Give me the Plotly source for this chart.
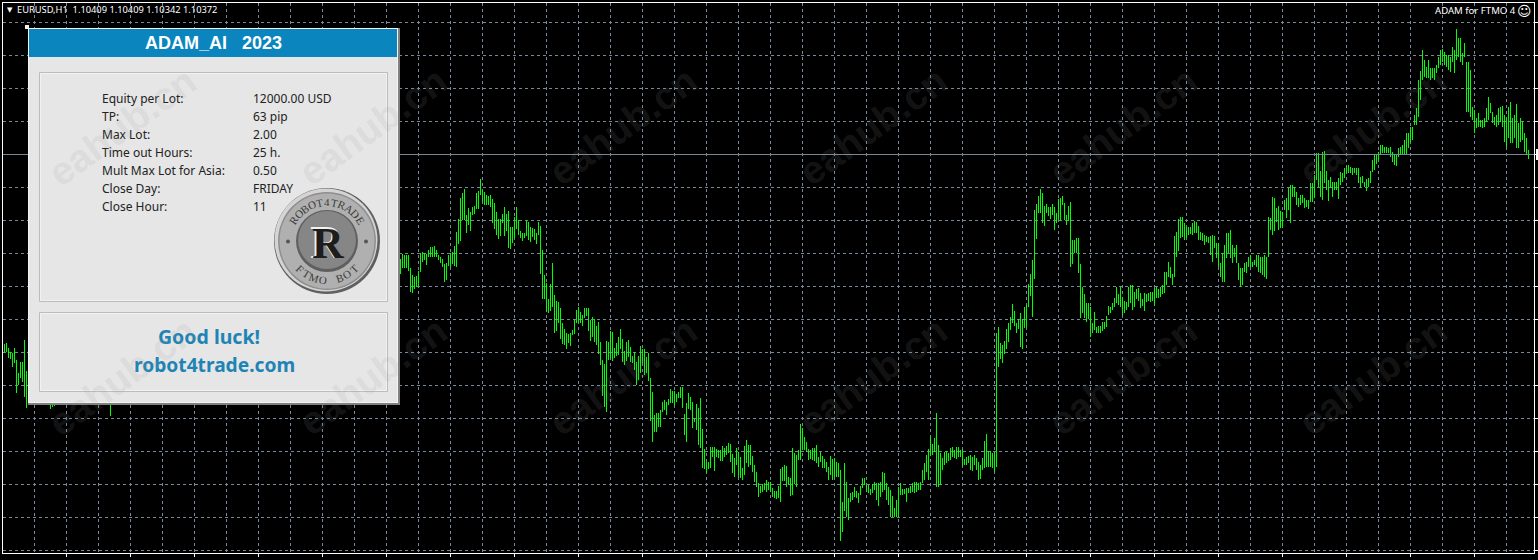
import math
import plotly.graph_objects as go

SYMBOL_INFO = "EURUSD,H1  1.10409 1.10409 1.10342 1.10372"
EA_NAME = "ADAM for FTMO 4"
LAST_CLOSE = 1.10372
BASE_PRICE = 1.05917
POINT = 0.0001

# (high, low) in points above BASE_PRICE
bars_left = [(252,240),(256,247),(257,248),(252,242),(248,241),(247,233),(252,237),(240,207),(227,215),
             (238,222),(238,218),(260,203),(229,192)]
bars_under_panel = [(215,191),(215,193),(215,194),(215,195)]
bars_under_panel_2 = [(215,184)]
bars_a = [(341,326),(346,332),(345,332),(345,332),(345,329),(332,308),(325,307),(323,311),(324,313),(329,314),
          (347,328),(348,338),(347,340),(346,335),(350,343),(353,343),(353,343),(354,343),(350,343),(345,340),
          (343,337),(341,333),(336,318),(337,320),(345,334),(347,333),(348,336),(354,334),(368,333),(381,356),
          (402,359),(407,380),(411,380),(385,367),(392,375),(388,369),(393,385),(394,386),(407,391),(409,391),
          (421,405),(410,397),(408,395),(405,395),(404,395),(405,393),(401,377),(397,371),(388,365),(381,361),
          (381,364),(386,377),(393,364),(386,369),(389,352),(373,351),(373,357),(383,362),(393,371),(380,365),
          (369,362),(367,359),(367,362)]
bars_b = [(380,364),(378,360),(373,358),(372,363),(371,360),(367,356),(378,365),(374,326),(350,301),(325,301),
          (317,288),(301,287),(316,289),(337,293),(305,267),(299,269),(298,277),(292,261),(277,256),(271,255),
          (267,251),(266,257),(267,254),(270,265),(280,266),(290,277),(293,277),(288,277),(285,274),(292,282),
          (292,284),(292,269),(280,259),(283,263),(281,258),(274,255),(278,246),(258,235),(240,204),(236,193),
          (259,188),(258,240),(269,242),(268,239),(252,242),(257,244),(263,245),(271,251),(261,238),(249,235),
          (258,239),(260,243),(253,238),(244,237),(248,230),(238,215),(244,220),(254,227),(251,237),(251,225),
          (243,227),(247,219),(222,179),(208,158),(185,168),(187,168),(187,173),(190,173),(198,188),(200,190),
          (198,185),(201,195),(211,197),(209,197),(209,194),(206,198),(208,202),(213,202),(213,192),(186,165),
          (197,158),(207,191),(203,190),(198,172),(181,178),(196,170),(192,155),(202,152)]
bars_c = [(171,132),(151,131),(138,127),(138,131),(153,132),(153,143),(153,129),(151,143),(150,142),(150,139),
          (154,139),(152,143),(154,145),(157,147),(156,138),(146,127),(142,123),(152,135),(148,123),(143,122),
          (132,120),(154,125),(160,137),(155,133),(155,135),(144,128),(135,118),(128,113),(117,103),(114,107),
          (116,108),(117,110),(120,108),(118,110),(118,108),(112,103),(109,102),(109,101),(114,102),(131,98),
          (133,119),(135,119),(134,113),(123,115),(122,104),(152,105),(147,116),(145,113),(150,140),(176,140),
          (172,150),(163,150),(158,148),(151,140),(150,141),(152,140),(152,139),(155,137),(143,133),(148,138),
          (144,132),(141,132),(138,128),(133,120),(144,125),(141,120),(142,123),(138,123),(137,123),(130,59),
          (98,68),(137,89),(118,83),(102,80),(107,98),(108,100),(113,103),(109,102),(107,97),(114,105),
          (122,112),(122,115),(115,108),(115,107),(111,105),(116,107),(118,110),(117,100),(117,94),(118,103),
          (128,108),(127,110),(117,100),(113,95),(110,83),(104,83),(92,83),(100,83),(113,83),(117,105),
          (111,105),(111,106),(112,98),(112,107),(114,107),(117,108),(118,107),(118,108),(117,110),(118,110),
          (130,117),(137,120),(145,128),(151,120),(163,144),(156,145),(162,148),(187,113),(155,113),(147,115),
          (142,130),(148,135),(149,137),(147,139),(152,140),(153,143),(150,142),(153,141),(153,143),(150,143),
          (150,134),(141,135),(143,135),(144,137),(145,130),(143,129),(145,135),(142,130),(138,120),(135,121),
          (142,130),(159,132),(166,133),(149,133),(149,133),(147,132),(148,128),(267,133),(273,233)]
bars_d = [(257,241),(255,237),(259,246),(271,251),(277,258),(283,270),(296,277),(289,274),(277,267),(281,271),
          (287,253),(281,251),(293,272),(295,273),(316,293),(326,304),(340,283),(390,321),(396,361),(404,387),
          (411,387),(407,377),(394,374),(396,387),(393,384),(393,381),(396,385),(393,370),(387,377),(401,381),
          (402,379),(404,395),(397,380),(385,375),(394,379),(398,333),(360,336),(360,347),(362,347),(362,327),
          (336,282),(313,287),(306,282),(297,278),(297,281),(293,263),(277,267),(288,270),(273,267),(274,267),
          (274,267),(278,269),(278,271),(284,273),(294,285),(293,287),(297,290),(302,293),(313,297),(306,295),
          (313,293),(303,285),(299,287),(298,290),(313,293),(315,297),(315,290),(308,293),(311,301),(312,299),
          (307,292),(301,294),(307,289),(306,298),(307,299),(308,298),(308,299),(312,294),(313,302),(311,302),
          (313,303),(315,306),(328,307),(328,315),(338,323),(333,322),(326,315),(364,323),(368,343),(381,349)]
bars_e = [(383,362),(383,363),(377,360),(373,362),(373,365),(373,366),(377,365),(379,367),(378,367),(374,360),
          (368,360),(367,359),(365,355),(364,358),(363,357),(364,345),(365,338),(364,352),(357,342),(357,333),
          (337,323),(347,318),(355,318),(367,342),(367,347),(370,342),(355,337),(352,343),(355,337),(337,320),
          (332,313),(332,315),(337,328),(338,327),(343,333),(345,333),(338,333),(340,335),(345,333),(345,328),
          (343,327),(343,325),(345,323),(343,321),(383,343),(382,370),(403,365),(402,369),(392,378),(394,370),
          (389,372),(388,372),(400,390),(402,382),(412,390),(415,377),(415,403),(413,403),(408,395),(402,393),
          (405,395),(405,397),(402,392),(400,393),(400,391),(417,398),(417,398),(425,402),(447,420),(447,413),
          (429,403),(448,400),(449,417),(429,410),(420,399),(423,412),(418,403),(418,410),(418,410),(422,401),
          (428,415),(427,418),(432,422),(434,427),(435,427),(433,427),(432,425),(432,427),(432,425),(432,417),
          (423,412),(424,417),(418,413),(421,409),(422,413),(429,417),(440,428),(445,430),(446,436),(448,440),
          (455,445),(455,447),(453,447),(453,447),(452,447),(453,443),(448,438),(445,435),(445,434),(452,443),
          (453,445),(455,445),(460,445),(467,445),(467,452),(473,458),(473,460),(485,475),(492,475),(520,483),
          (529,500),(550,520),(540,523),(533,522),(540,522),(532,520),(532,522),(532,520),(535,527),(543,532),
          (550,535),(551,538),(548,535),(545,533),(545,530),(543,528),(553,538),(550,527),(571,540),(562,543),
          (562,538),(547,535),(557,543),(538,488),(538,488),(530,483),(493,480),(490,467),(482,472),(487,473),
          (480,473),(480,472),(482,473),(492,478),(503,480),(497,487),(488,477),(483,475),(485,473),(492,475),
          (493,478),(494,473),(485,458),(483,453),(493,462),(498,457),(482,457),(485,462),(496,452),(477,452),
          (482,458),(478,460),(467,448),(462,445),(450,441)]
segments = [(1, bars_left), (25, bars_under_panel), (55, bars_under_panel_2), (200, bars_a), (263, bars_b),
            (351, bars_c), (500, bars_d), (590, bars_e)]

time_labels = ["14 Nov 2023","15 Nov 12:00","16 Nov 20:00","20 Nov 04:00","21 Nov 12:00","22 Nov 20:00",
               "24 Nov 04:00","27 Nov 12:00","28 Nov 20:00","30 Nov 04:00","1 Dec 12:00","4 Dec 20:00",
               "6 Dec 04:00","7 Dec 12:00","8 Dec 20:00","12 Dec 04:00","13 Dec 12:00","14 Dec 20:00",
               "18 Dec 04:00","19 Dec 12:00","20 Dec 20:00","22 Dec 04:00","25 Dec 12:00","26 Dec 20:00"]
panel_labels = ["Equity per Lot:","TP:","Max Lot:","Time out Hours:","Mult Max Lot for Asia:","Close Day:","Close Hour:"]
panel_values = ["12000.00 USD","63 pip","2.00","25 h.","0.50","FRIDAY","11"]

W, H = 1538, 560
L, R, T, B = 3, 4, 3, 7
PW, PH = W - L - R, H - T - B
GRID = "#778899"

def price(points):
    return BASE_PRICE + points * POINT

bar_x, bar_high, bar_low = [], [], []
for start, bars in segments:
    for i, (hi, lo) in enumerate(bars):
        bar_x.append(start + i)
        bar_low.append(price(lo))
        bar_high.append(price(hi) - price(lo))

def px(x):
    return (x - L) / PW

def py(y):
    return (H - B - y) / PH

fig = go.Figure()
fig.add_trace(go.Scatter(x=[1.25, 766.75], y=[LAST_CLOSE, LAST_CLOSE], mode="lines",
                         line=dict(color=GRID, width=1), hoverinfo="skip", showlegend=False))
fig.add_trace(go.Bar(x=bar_x, y=bar_high, base=bar_low, width=0.5,
                     marker=dict(color="rgba(0,255,0,0.999)", line=dict(width=0)),
                     hoverinfo="skip", showlegend=False))

shapes, notes = [], []

def rect(x0, y0, x1, y1, fill, line=None, lw=0):
    shapes.append(dict(type="rect", xref="paper", yref="paper", x0=px(x0), x1=px(x1), y0=py(y1), y1=py(y0),
                       fillcolor=fill, line=dict(color=line or fill, width=lw), layer="above"))

def circle(cx, cy, r, fill, line=None, lw=0):
    rect(cx - r, cy - r, cx + r, cy + r, fill, line, lw)
    s = shapes[-1]
    s["type"] = "circle"

def text(x, y, t, size=12, color="#222222", family="Noto Sans", anchor="left", bold=False, angle=0, ya="middle"):
    notes.append(dict(xref="paper", yref="paper", x=px(x), y=py(y), text=f"<b>{t}</b>" if bold else t,
                      showarrow=False, xanchor=anchor, yanchor=ya, textangle=angle, borderpad=0,
                      font=dict(size=size, color=color, family=family)))

# dialog panel
rect(28, 28, 400, 405, "#808080")
rect(28, 28, 398, 403, "#f4f4f4")
rect(29, 29, 397, 402, "#e6e6e6")
rect(29, 29, 397, 57, "#0b85bd")
rect(25, 25, 29, 29, "#f0f0f0")
for y0, y1 in [(72, 301), (312, 391)]:
    rect(39.5, y0 + 0.5, 387.5, y1 + 0.5, "#e6e6e6", "#bcbcbc", 1)
    rect(40.5, y0 + 1.5, 386.5, y1 - 0.5, "#e6e6e6", "#f2f2f2", 1)

text(213, 43, "ADAM_AI&nbsp;&nbsp;&nbsp;2023", 18, "#ffffff", "Liberation Sans", "center", True)
for i, (lab, val) in enumerate(zip(panel_labels, panel_values)):
    text(101, 98.5 + 18 * i, lab, 12)
    text(252, 98.5 + 18 * i, val, 12)
text(209, 336, "Good luck!", 19.5, "#1f84b4", "Noto Sans", "center", True)
text(214, 364, "robot4trade.com", 19.2, "#1f84b4", "Noto Sans", "center", True)

# coin
cx, cy = 327, 241
circle(cx, cy, 53, "#5f5f5f")
circle(cx - 1, cy - 1, 51.5, "#d4d4d4")
circle(cx, cy, 49, "#8e8e8e")
circle(cx, cy, 47.5, "#b0b0b0")
circle(cx, cy, 31, "#5f5f5f")
circle(cx, cy - 1, 29, "#868686")
circle(cx - 39, cy + 0.5, 2, "#555555")
circle(cx + 39, cy + 0.5, 2, "#555555")
text(cx, cy + 1, "R", 46, "#f2f2f2", "Liberation Serif", "center", True)
text(cx + 1, cy + 2, "R", 44, "#1d1d1d", "Liberation Serif", "center", True)
word = "ROBOT4TRADE"
for i, ch in enumerate(word):
    a = -58 + 116 * i / (len(word) - 1)
    text(cx + 39 * math.sin(math.radians(a)), cy - 39 * math.cos(math.radians(a)), ch, 11, "#3a3a3a",
         "Liberation Serif", "center", angle=a)
word = "FTMO BOT"
for i, ch in enumerate(word):
    a = -44 + 88 * i / (len(word) - 1)
    text(cx + 39 * math.sin(math.radians(a)), cy + 39 * math.cos(math.radians(a)), ch, 11, "#3a3a3a",
         "Liberation Serif", "center", angle=-a)

# chart captions
text(6, 9.5, "▼", 7, "#ffffff", "DejaVu Sans")
text(15.5, 10, SYMBOL_INFO, 9.3, "#ffffff", "Noto Sans")
text(1434, 10.5, EA_NAME, 9.6, "#ffffff", "Noto Sans")
text(1524, 10.5, "☺", 14, "#ffffff", "DejaVu Sans", "center")
rect(1536, 149, 1538, 160, "#ffffff")

# time labels, cut by the window edge as in the picture
for i, lab in enumerate(time_labels):
    text(3 + 64 * i, 556, lab, 9, "#ffffff", "Noto Sans", ya="top")

# watermark
for wy in (126, 376):
    for wx in (122, 372, 622, 872, 1122, 1372):
        text(wx, wy, "eahub.cn", 39, "rgba(150,150,150,0.15)", "Liberation Sans", "center", True, angle=-36)

major = list(range(33, 766, 32))
minor = list(range(17, 766, 32))
y_grid = [price(577.5 - 33 * k) for k in range(17)]

fig.update_layout(
    width=W, height=H, margin=dict(l=L, r=R, t=T, b=B, pad=0, autoexpand=False),
    paper_bgcolor="#000000", plot_bgcolor="#000000", showlegend=False, barmode="overlay",
    shapes=shapes, annotations=notes,
    xaxis=dict(range=[1.25, 766.75], automargin=False, tickmode="array", tickvals=major, ticktext=[""] * len(major),
               showticklabels=False, ticks="outside", ticklen=3, tickcolor="#ffffff", tickwidth=1,
               showline=True, linecolor="#ffffff", linewidth=1, mirror=True, zeroline=False,
               showgrid=True, gridcolor=GRID, gridwidth=1, griddash="3px,3px",
               minor=dict(tickmode="array", tickvals=minor, ticks="", showgrid=True, gridcolor=GRID,
                          gridwidth=1, griddash="3px,3px")),
    yaxis=dict(range=[price(47), price(597)], automargin=False, side="right", tickmode="array", tickvals=y_grid,
               showticklabels=False, ticks="outside", ticklen=3, tickcolor="#ffffff", tickwidth=1,
               showline=True, linecolor="#ffffff", linewidth=1, mirror=True, zeroline=False,
               showgrid=True, gridcolor=GRID, gridwidth=1, griddash="3px,3px"),
)

fig.write_html("out.html", config=dict(displayModeBar=False),
               post_script="document.body.style.margin='0';document.body.style.background='#000';document.body.style.overflow='hidden';")
